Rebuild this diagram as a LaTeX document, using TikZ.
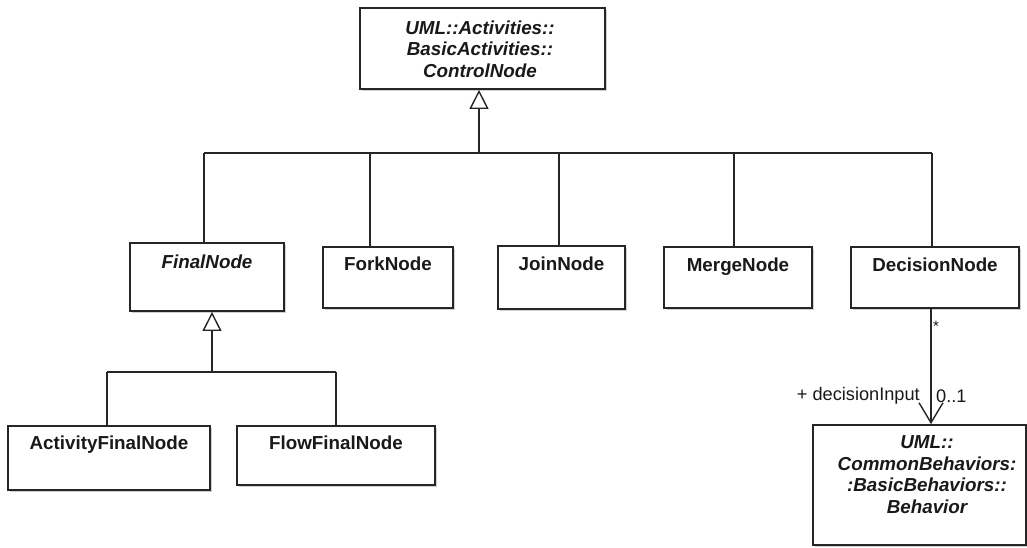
\documentclass[tikz,border=0pt]{standalone}
\usepackage{fontspec}
\setmainfont{Liberation Sans}
\usetikzlibrary{arrows.meta,shadows}
\begin{document}
\begin{tikzpicture}[x=1pt,y=-1pt,
  cls/.style={draw=black!85,line width=1.8pt,fill=white,inner sep=0pt,
    drop shadow={shadow xshift=2pt,shadow yshift=-2pt,opacity=0.3,fill=black!60}},
  ttl/.style={inner sep=0pt,font=\fontsize{18.8}{21.5}\selectfont\bfseries,text=black!90},
  mttl/.style={ttl,align=center,anchor=north},
  lbl/.style={inner sep=0pt,font=\fontsize{18.2}{21}\selectfont,text=black!90},
  conn/.style={draw=black!85,line width=1.4pt},
  gen/.style={conn,-{Triangle[open,length=19pt,width=19pt,line width=1.4pt]}},
  assoc/.style={conn,-{Straight Barb[length=20pt,width=24pt,line width=1.4pt]}}
]
\useasboundingbox (0,0) rectangle (1027,547);
\fill[white] (0,0) rectangle (1027,547);

% boxes
\node[cls,minimum width=245pt,minimum height=81pt] (top) at (482.5,48.5) {};
\node[cls,minimum width=154pt,minimum height=68pt] (final) at (207,277) {};
\node[cls,minimum width=130pt,minimum height=61pt] (fork) at (388,277.5) {};
\node[cls,minimum width=127pt,minimum height=63pt] (join) at (561.5,277.5) {};
\node[cls,minimum width=148pt,minimum height=61pt] (merge) at (738,277.5) {};
\node[cls,minimum width=168pt,minimum height=61pt] (decision) at (935,277.5) {};
\node[cls,minimum width=202pt,minimum height=64pt] (afn) at (109,458) {};
\node[cls,minimum width=198pt,minimum height=59pt] (ffn) at (336,455.5) {};
\node[cls,minimum width=213pt,minimum height=120pt] (beh) at (919.5,485) {};

% titles
\node[mttl] (topT) at (480,20.5) {\itshape UML::Activities::\\\itshape BasicActivities::\\\itshape ControlNode};
\node[ttl,anchor=base] (finalT) at (207,268) {\itshape FinalNode};
\node[ttl,anchor=base] (forkT) at (388,270) {ForkNode};
\node[ttl,anchor=base] (joinT) at (561.5,270) {JoinNode};
\node[ttl,anchor=base] (mergeT) at (738,271) {MergeNode};
\node[ttl,anchor=base] (decisionT) at (935,271) {DecisionNode};
\node[ttl,anchor=base] (afnT) at (109,449) {ActivityFinalNode};
\node[ttl,anchor=base] (ffnT) at (336,449) {FlowFinalNode};
\node[mttl] (behT) at (927,435.5) {\itshape UML::\\\itshape CommonBehaviors:\\\itshape :BasicBehaviors::\\\itshape Behavior};

% generalization 1
\coordinate (b0) at (479,153);
\coordinate (bF) at (204,153);
\coordinate (bK) at (370,153);
\coordinate (bJ) at (559,153);
\coordinate (bM) at (734,153);
\coordinate (bD) at (932,153);
\draw[gen] (b0) -- (b0 |- top.south);
\draw[conn] (bF) -- (bD);
\draw[conn] (bF) -- (bF |- final.north);
\draw[conn] (bK) -- (bK |- fork.north);
\draw[conn] (bJ) -- (bJ |- join.north);
\draw[conn] (bM) -- (bM |- merge.north);
\draw[conn] (bD) -- (bD |- decision.north);

% generalization 2
\coordinate (c0) at (212,372);
\coordinate (cA) at (107,372);
\coordinate (cF) at (336,372);
\draw[gen] (c0) -- (c0 |- final.south);
\draw[conn] (cA) -- (cF);
\draw[conn] (cA) -- (cA |- afn.north);
\draw[conn] (cF) -- (cF |- ffn.north);

% association
\coordinate (a0) at (931,0);
\draw[assoc] (a0 |- decision.south) -- (a0 |- beh.north);
\node[lbl,anchor=base west,font=\fontsize{15}{18}\selectfont] (star) at (933,331) {*};
\node[lbl,anchor=base east] (role) at (920,400) {+ decisionInput};
\node[lbl,anchor=base west] (mult) at (936,402) {0..1};
\end{tikzpicture}
\end{document}
